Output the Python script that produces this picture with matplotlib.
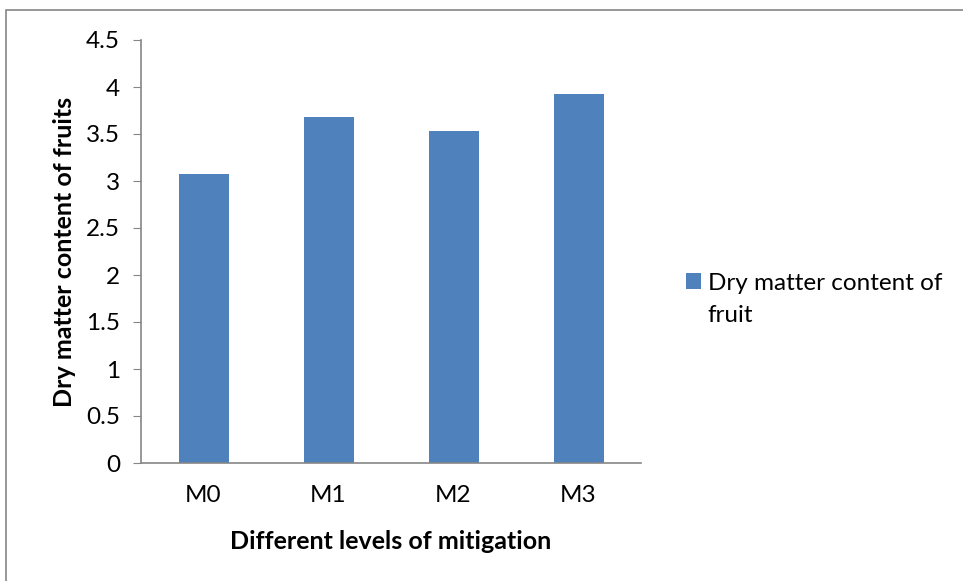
import numpy as np
import matplotlib.pyplot as plt
from matplotlib.patches import Rectangle

# mitigation levels and dry matter values
levels = ['M0', 'M1', 'M2', 'M3']
dry_matter = [3.07, 3.68, 3.53, 3.93]
y_ticks = [0, 0.5, 1, 1.5, 2, 2.5, 3, 3.5, 4, 4.5]

plt.rcParams['font.family'] = ['Lato', 'DejaVu Sans']

fig = plt.figure(figsize=(9.63, 5.81), dpi=100)
ax = fig.add_axes([141/963, 118/581, 500/963, 423/581])

x = np.arange(len(levels))
bars = ax.bar(x, dry_matter, width=0.4, color='#4f81bd',
              label='Dry matter content of')

ax.set_xlim(-0.5, 3.5)
ax.set_ylim(0, 4.5)
ax.set_yticks(y_ticks)
ax.set_yticklabels([('%g' % t) for t in y_ticks], fontsize=17.5)
ax.set_xticks(x)
ax.set_xticklabels(levels, fontsize=17.5)
ax.tick_params(axis='x', length=0, pad=16)
ax.tick_params(axis='y', length=6, color='#868686', pad=9)

for s in ['top', 'right']:
    ax.spines[s].set_visible(False)
for s in ['left', 'bottom']:
    ax.spines[s].set_color('#868686')
    ax.spines[s].set_linewidth(1.2)

ax.set_xlabel('Different levels of mitigation', fontsize=18, fontweight='bold', labelpad=17)
ax.set_ylabel('Dry matter content of fruits', fontsize=18, fontweight='bold', labelpad=7)

fig.legend(loc='center left', bbox_to_anchor=(686/963, 1 - 283/581), frameon=False,
           fontsize=17.5, handlelength=0.6, handleheight=0.6, handletextpad=0.3,
           borderaxespad=0, borderpad=0)
fig.text(707/963, 1 - 315/581, 'fruit', fontsize=17.5, va='center', ha='left')

# chart area frame (cropped)
fig.patches.append(Rectangle((6/963, -0.1), 1.1, 1 - 10/581 + 0.1,
                             transform=fig.transFigure, fill=False,
                             edgecolor='#868686', linewidth=1.2))

plt.savefig('out.png', dpi=100)
